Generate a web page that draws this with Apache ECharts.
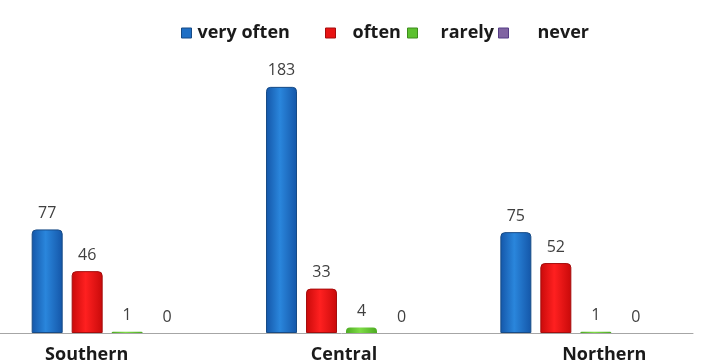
<!DOCTYPE html>
<html>
<head>
<meta charset="utf-8">
<script src="https://cdn.jsdelivr.net/npm/echarts@6/dist/echarts.min.js"></script>
<style>
  html, body { margin: 0; padding: 0; background: #fff; overflow: hidden; }
  #wrap { position: relative; width: 705px; height: 364px; overflow: hidden; }
  /* canvas is a bit wider and nudged left so the first group sits near the edge */
  #chart { position: absolute; left: -10px; top: 0; width: 715px; height: 364px; }
</style>
</head>
<body>
<div id="wrap"><div id="chart"></div></div>
<script>
// Regions on the category axis
const regions = ['Southern', 'Central', 'Northern'];

// How often, per region
const veryOften = [77, 183, 75];
const often = [46, 33, 52];
const rarely = [1, 4, 1];
const never = [0, 0, 0];

const seriesNames = ['very often', 'often', 'rarely', 'never'];
const seriesValues = [veryOften, often, rarely, never];

// Fill: darker edges, lighter middle, with a darker outline
const palette = [
  { edge: '#1456a8', mid: '#2a86dc', border: '#174b86', icon: '#1f6fc5', line: 1 },
  { edge: '#c80a0a', mid: '#ff2020', border: '#a50d0d', icon: '#e81313', line: 1 },
  { edge: '#4caa22', mid: '#7edc46', border: '#3d8c1c', icon: '#5cc12f', line: 0 },
  { edge: '#6a4fa0', mid: '#9a7fd0', border: '#553c86', icon: '#8064a2', line: 0 }
];

function barFill(p) {
  return new echarts.graphic.LinearGradient(0, 0, 1, 0, [
    { offset: 0, color: p.edge },
    { offset: 0.45, color: p.mid },
    { offset: 1, color: p.edge }
  ]);
}

// Category labels sit slightly off the bar groups
const labelRich = {
  a: { padding: [0, 41, 0, 0] },
  b: { padding: [0, 0, 0, 5] },
  c: { padding: [0, 0, 0, 57] }
};
const labelKey = { Southern: 'a', Central: 'b', Northern: 'c' };

// Legend entries, each placed on its own (canvas is offset 10px)
const legendLeft = [186, 330, 412, 503];
const legendTextGap = [1, 12, 18, 24];

const legends = seriesNames.map((name, i) => ({
  data: [{ name: name, itemStyle: { color: palette[i].icon, borderColor: palette[i].border, borderWidth: 1 } }],
  left: legendLeft[i],
  top: 19,
  icon: 'rect',
  itemWidth: 10,
  itemHeight: 10,
  selectedMode: false,
  textStyle: {
    fontFamily: 'Open Sans',
    fontWeight: 'bold',
    fontSize: 18,
    lineHeight: 18,
    color: '#1a1a1a',
    padding: [0, 0, 0, legendTextGap[i]]
  }
}));

const series = seriesNames.map((name, i) => ({
  name: name,
  type: 'bar',
  data: seriesValues[i],
  barWidth: 31,
  barGap: '29%',
  itemStyle: {
    color: barFill(palette[i]),
    borderColor: palette[i].border,
    borderWidth: palette[i].line,
    borderRadius: [4, 4, 0, 0]
  },
  label: {
    show: true,
    position: 'top',
    distance: 8,
    fontFamily: 'Open Sans',
    fontSize: 16,
    color: '#404040'
  }
}));

const chart = echarts.init(document.getElementById('chart'), null, { renderer: 'canvas' });
chart.setOption({
  animation: false,
  backgroundColor: '#ffffff',
  legend: legends,
  grid: { left: 0, right: 12, top: 64, bottom: 27, containLabel: false },
  xAxis: {
    type: 'category',
    data: regions,
    axisTick: { show: false },
    axisLine: { lineStyle: { color: '#a6a6a6', width: 1 } },
    axisLabel: {
      margin: 13,
      fontFamily: 'Open Sans',
      fontWeight: 'bold',
      fontSize: 18,
      color: '#1a1a1a',
      formatter: v => '{' + labelKey[v] + '|' + v + '}',
      rich: labelRich
    }
  },
  yAxis: {
    type: 'value',
    min: 0,
    max: 200,
    show: false,
    splitLine: { show: false }
  },
  series: series
});
</script>
</body>
</html>
